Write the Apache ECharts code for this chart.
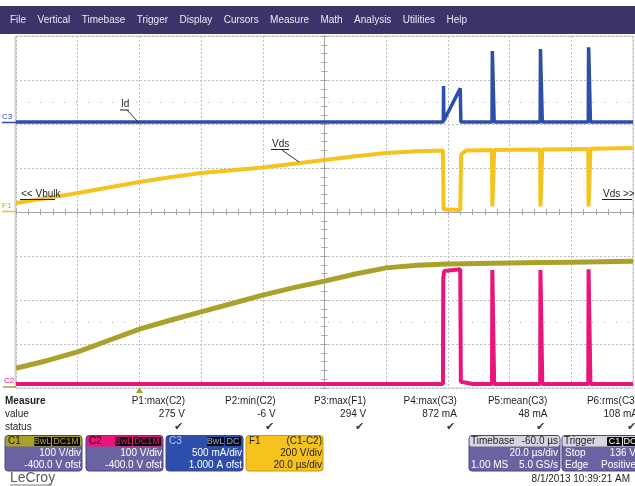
<!DOCTYPE html>
<html>
<head>
<meta charset="utf-8">
<title>LeCroy capture</title>
<script src="https://cdn.jsdelivr.net/npm/echarts@6/dist/echarts.min.js"></script>
<style>
html,body{margin:0;padding:0;background:#ffffff;}
#chart{width:635px;height:486px;}
</style>
</head>
<body>
<div id="chart"></div>
<script>
// ---------------- data ----------------
const menuItems = ['File','Vertical','Timebase','Trigger','Display','Cursors','Measure','Math','Analysis','Utilities','Help'];
const measureNames = ['P1:max(C2)','P2:min(C2)','P3:max(F1)','P4:max(C3)','P5:mean(C3)','P6:rms(C3)'];
const measureValues = ['275 V','-6 V','294 V','872 mA','48 mA','108 mA'];
const rowLabels = ['Measure','value','status'];
const c1Info = ['C1','BwL','DC1M','100 V/div','-400.0 V ofst'];
const c2Info = ['C2','BwL','DC1M','100 V/div','-400.0 V ofst'];
const c3Info = ['C3','BwL','DC','500 mA/div','1.000 A ofst'];
const f1Info = ['F1','(C1-C2)','200 V/div','20.0 µs/div'];
const timebaseInfo = ['Timebase','-60.0 µs','20.0 µs/div','1.00 MS','5.0 GS/s'];
const triggerInfo = ['Trigger','C1','DC','Stop','136 V','Edge','Positive'];
const traceLabels = ['Id','Vds','<< Vbulk','Vds >>'];
const timestamp = '8/1/2013 10:39:21 AM';

// time axis: µs relative to trigger (20 µs/div, 10 div)
const timeMin = -40, timeMax = 160, timePerDiv = 20;

// C1 (V) — olive, 100 V/div
const c1Trace = [[-40,45],[-30,62],[-20,82],[-10,108],[0,134],[10,154],[20,173],[30,192],[40,211],[50,228],
  [60,243],[70,259],[80,273],[90,279],[100,282],[110,283],[120,284],[130,285],[140,286],[150,287],[160,288]];
// C2 (V) — magenta, 100 V/div
const c2Trace = [[-40,9],[98.4,9],[98.5,250],[98.8,266],[104.0,270],[104.2,14],[104.6,17],[106,12],[108,9],
  [114.3,9],[114.4,268],[114.9,268],[115.0,9],
  [129.9,9],[130.0,268],[130.5,268],[130.6,9],
  [145.5,9],[145.6,270],[146.1,270],[146.2,9],[160,9]];
// C3 (mA) — blue, 500 mA/div
const c3Trace = [[-40,23],[98.5,23],[98.6,432],[98.7,40],[104.0,405],[104.2,23],
  [114.3,23],[114.4,830],[114.5,706],[114.7,440],[114.9,420],[115.0,23],
  [129.9,23],[130.0,853],[130.1,700],[130.3,450],[130.5,440],[130.6,23],
  [145.5,23],[145.6,872],[145.7,785],[145.9,480],[146.1,460],[146.2,23],[160,23]];
// F1 = C1-C2 (V) — yellow, 200 V/div
const f1Trace = [[-40,41],[-30,63],[-20,86],[-10,111],[0,136],[10,158],[20,177],[30,190],[40,202],[50,219],
  [60,236],[70,253],[80,268],[90,276],[98.4,279],[98.6,12],[99,8],[104.0,9],[104.3,262],[106,280],
  [114.3,282],[114.4,25],[114.9,18],[115.0,282],
  [129.9,284],[130.0,25],[130.5,18],[130.6,284],
  [145.5,286],[145.6,25],[146.1,18],[146.2,287],[160,291]];

// ---------------- styling ----------------
const FONT = '"Liberation Sans", Arial, Helvetica, sans-serif';
const COL = {
  menu:'#3c3469', menuText:'#e8e8f2', c1:'#aaa12b', c2:'#e9157b', c3:'#2d4fab', f1:'#f6c21d',
  body:'#6a63a2', boxLine:'#4b4583', head:'#d6d6de', grid:'#bcbcbc', axis:'#a6a6a6'
};
const PLOT = {left:16, top:36, width:617, height:352};

function T(x, y, s, o) {
  o = o || {};
  const al = o.align || 'left';
  return {type:'text', x:x, y:y, silent:true, z:o.z || 20,
    style:{text:s, fill:o.fill || '#1e1e1e', font:(o.bold ? 'bold ' : '') + (o.size || 10) + 'px ' + FONT,
      align:al, textAlign:al, verticalAlign:'middle', textVerticalAlign:'middle'}};
}
function R(x, y, w, h, fill, stroke, r) {
  return {type:'rect', silent:true, z:15, shape:{x:x, y:y, width:w, height:h, r:r || 0},
    style:{fill:fill, stroke:stroke || null, lineWidth:stroke ? 1 : 0}};
}
function L(x1, y1, x2, y2, c, w) {
  return {type:'line', silent:true, z:20, shape:{x1:x1, y1:y1, x2:x2, y2:y2}, style:{stroke:c || '#222', lineWidth:w || 1}};
}

const g = [];
// menu bar
g.push(R(0, 6, 635, 28, COL.menu));
(function () {
  const ctx = document.createElement('canvas').getContext('2d');
  ctx.font = '10px ' + FONT;
  const widths = menuItems.map(m => ctx.measureText(m).width);
  const total = widths.reduce((a, b) => a + b, 0);
  const gap = (457 - total) / (menuItems.length - 1);
  let x = 10;
  menuItems.forEach((m, i) => { g.push(T(x, 20, m, {fill:COL.menuText})); x += widths[i] + gap; });
})();

// measure table
g.push(T(5, 401, rowLabels[0], {bold:true}));
g.push(T(5, 414, rowLabels[1]));
g.push(T(5, 427, rowLabels[2]));
measureNames.forEach((n, i) => {
  const xr = 185 + i * 90.6;
  g.push(T(xr, 401, n, {align:'right'}));
  g.push(T(xr, 414, measureValues[i], {align:'right'}));
  g.push(T(xr - 2, 427, '✔', {align:'right', fill:'#3a3a3a', size:11}));
});

// channel boxes
function badge(x, w, s, color) {
  g.push(R(x, 437, w, 9, '#0a0a0a', null, 1));
  g.push(T(x + w / 2, 441.5, s, {align:'center', fill:color, size:9}));
}
function chanBox(x, info, headCol, bodyCol, textCol, headText, bx) {
  g.push(R(x, 435.5, 77, 35.5, bodyCol, COL.boxLine, 3));
  g.push(R(x + 0.5, 436, 76, 10.5, headCol, null, 2));
  g.push(T(x + 3, 441.5, info[0], {fill:headText}));
  g.push(T(x + 76, 453, info[3], {align:'right', fill:textCol}));
  g.push(T(x + 76, 465.5, info[4], {align:'right', fill:textCol}));
  badge(x + bx[0], bx[1], info[1], headCol === COL.c3 ? '#8fa6e6' : headCol);
  badge(x + bx[0] + bx[1] + 1, bx[2], info[2], headCol === COL.c3 ? '#8fa6e6' : headCol);
}
chanBox(5, c1Info, COL.c1, COL.body, '#ffffff', '#202000', [29, 17, 28]);
chanBox(86, c2Info, COL.c2, COL.body, '#ffffff', '#200010', [29, 17, 28]);
chanBox(166, c3Info, COL.c3, COL.c3, '#ffffff', '#b8c4ee', [41, 17, 16]);
// F1 box
g.push(R(246, 435.5, 77, 35.5, COL.f1, '#c79a10', 3));
g.push(T(249, 441.5, f1Info[0]));
g.push(T(322, 441.5, f1Info[1], {align:'right'}));
g.push(T(322, 453, f1Info[2], {align:'right'}));
g.push(T(322, 465.5, f1Info[3], {align:'right'}));
// timebase box
g.push(R(469, 435.5, 91, 35.5, COL.body, COL.boxLine, 3));
g.push(R(469.5, 436, 90, 10.5, COL.head, null, 2));
g.push(T(471, 441.5, timebaseInfo[0]));
g.push(T(558, 441.5, timebaseInfo[1], {align:'right'}));
g.push(T(558, 453, timebaseInfo[2], {align:'right', fill:'#ffffff'}));
g.push(T(471, 465.5, timebaseInfo[3], {fill:'#ffffff'}));
g.push(T(558, 465.5, timebaseInfo[4], {align:'right', fill:'#ffffff'}));
// trigger box
g.push(R(562, 435.5, 80, 35.5, COL.body, COL.boxLine, 3));
g.push(R(562.5, 436, 79, 10.5, COL.head, null, 2));
g.push(T(564, 441.5, triggerInfo[0]));
badge(607, 15, triggerInfo[1], '#ffffff');
badge(623, 14, triggerInfo[2], '#ffffff');
g.push(T(565, 453, triggerInfo[3], {fill:'#ffffff'}));
g.push(T(636, 453, triggerInfo[4], {align:'right', fill:'#ffffff'}));
g.push(T(565, 465.5, triggerInfo[5], {fill:'#ffffff'}));
g.push(T(636, 465.5, triggerInfo[6], {align:'right', fill:'#ffffff'}));

// footer
g.push(T(10, 478.5, 'LeCroy', {size:14, fill:'#5a5a5a'}));
g.push(L(10, 485, 52, 485, '#7a7a7a', 1));
g.push(T(630, 479, timestamp, {align:'right', size:10}));

// trace annotations
g.push(T(121, 104, traceLabels[0], {size:10}));
g.push(L(120, 110, 129, 110, '#222', 1));
g.push(L(127, 110, 139, 123, '#333', 1));
g.push(T(272, 144, traceLabels[1], {size:10}));
g.push(L(271, 149.5, 289, 149.5, '#222', 1));
g.push(L(282, 150, 299, 162, '#333', 1));
g.push(T(21, 194.5, traceLabels[2], {size:10}));
g.push(L(20, 199.5, 55, 199.5, '#222', 1));
g.push(T(603, 194.5, traceLabels[3], {size:10}));
g.push(L(602, 199.5, 632, 199.5, '#222', 1));

// ground markers at left edge
g.push(T(2, 117, 'C3', {size:8, fill:COL.c3}));
g.push(L(2, 122.5, 16, 122.5, COL.c3, 1.5));
g.push(T(2, 206, 'F1', {size:8, fill:'#d9a400'}));
g.push(L(2, 211.5, 16, 211.5, COL.f1, 1.5));
g.push(T(4, 381, 'C2', {size:8, fill:COL.c2}));
g.push(L(3, 387, 16, 387, COL.c1, 1.5));
g.push(R(14.5, 36, 1.5, 352, '#d0d0d0'));

// ---------------- chart ----------------
const hiddenX = (gi, mn, mx) => ({gridIndex:gi, type:'value', min:mn, max:mx, show:false});
const hiddenY = (gi, mn, mx) => ({gridIndex:gi, type:'value', min:mn, max:mx, show:false});
const tickAxis = (gi, pos, inside, mn, mx) => ({
  gridIndex:gi, type:'value', position:pos, min:mn, max:mx, interval:1,
  axisLine:{show:true, onZero:false, lineStyle:{color:COL.axis, width:1}},
  axisTick:{show:true, inside:inside, length:3, lineStyle:{color:COL.axis}},
  minorTick:{show:true, splitNumber:5, length:3, lineStyle:{color:COL.axis}},
  axisLabel:{show:false}, splitLine:{show:false}, minorSplitLine:{show:false}
});

const chart = echarts.init(document.getElementById('chart'), null, {renderer:'canvas'});
const option = {
  animation:false,
  backgroundColor:'#ffffff',
  grid:[
    Object.assign({}, PLOT),                                           // 0 data
    Object.assign({show:true, borderColor:'#cfcfcf', borderWidth:1}, PLOT), // 1 division grid
    {left:PLOT.left, top:PLOT.top, width:PLOT.width, height:PLOT.height / 2}, // 2 horizontal centre axis
    {left:PLOT.left, top:PLOT.top, width:PLOT.width / 2, height:PLOT.height}, // 3 vertical centre axis
    {left:PLOT.left, top:PLOT.top + PLOT.height * 1.5 / 8, width:PLOT.width, height:PLOT.height * 5 / 8} // 4 faint rows
  ],
  xAxis:[
    hiddenX(0, timeMin, timeMax),
    {gridIndex:1, type:'value', min:-5, max:5, interval:1, axisLine:{show:false}, axisTick:{show:false}, axisLabel:{show:false},
      splitLine:{show:true, lineStyle:{color:COL.grid, type:[2,2], width:1}}},
    tickAxis(2, 'bottom', false, -5, 5),
    tickAxis(2, 'bottom', true, -5, 5),
    hiddenX(3, 0, 1),
    hiddenX(4, 0, 1)
  ],
  yAxis:[
    hiddenY(0, -3000, 1000),   // C3 mA, 500 mA/div, zero 2 div below top
    hiddenY(0, -800, 800),     // F1 V, 200 V/div, zero at centre
    hiddenY(0, 0, 800),        // C1 / C2 V, 100 V/div, zero at bottom
    {gridIndex:1, type:'value', min:-4, max:4, interval:1, axisLine:{show:false}, axisTick:{show:false}, axisLabel:{show:false},
      splitLine:{show:true, lineStyle:{color:COL.grid, type:[2,2], width:1}}},
    hiddenY(2, 0, 1),
    tickAxis(3, 'right', false, -4, 4),
    tickAxis(3, 'right', true, -4, 4),
    {gridIndex:4, type:'value', min:0, max:1, interval:1, axisLine:{show:false}, axisTick:{show:false}, axisLabel:{show:false},
      splitLine:{show:true, lineStyle:{color:'#a8a8a8', type:[1,11], width:1}}}
  ],
  series:[
    {name:'C1', type:'line', xAxisIndex:0, yAxisIndex:2, data:c1Trace, showSymbol:false, symbol:'none', silent:true, z:3,
      lineStyle:{color:COL.c1, width:5}},
    {name:'F1', type:'line', xAxisIndex:0, yAxisIndex:1, data:f1Trace, showSymbol:false, symbol:'none', silent:true, z:4,
      lineStyle:{color:COL.f1, width:4}},
    {name:'C3', type:'line', xAxisIndex:0, yAxisIndex:0, data:c3Trace, showSymbol:false, symbol:'none', silent:true, z:4,
      lineStyle:{color:COL.c3, width:3.5}},
    {name:'C2', type:'line', xAxisIndex:0, yAxisIndex:2, data:c2Trace, showSymbol:false, symbol:'none', silent:true, z:5,
      lineStyle:{color:COL.c2, width:4}}
  ],
  graphic:{elements:g}
};
chart.setOption(option);

// trigger-position marker under the grid (trigger time = 0)
const trig = chart.convertToPixel({xAxisIndex:0, yAxisIndex:2}, [0, 0]);
chart.setOption({graphic:{elements:g.concat([
  {type:'polygon', silent:true, z:20, shape:{points:[[trig[0] - 3.5, trig[1] + 5], [trig[0] + 3.5, trig[1] + 5], [trig[0], trig[1] - 0.5]]},
    style:{fill:COL.c1}}
])}});
</script>
</body>
</html>
